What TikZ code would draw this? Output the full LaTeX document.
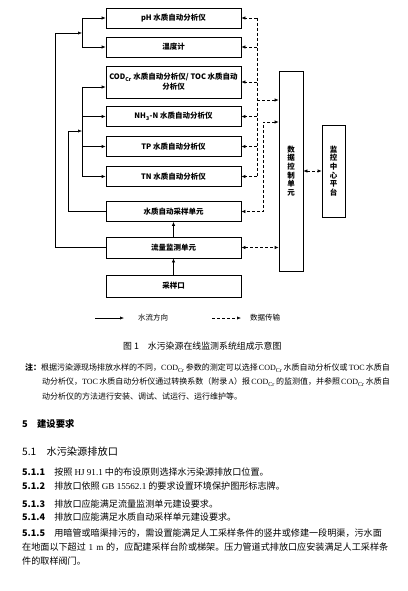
\documentclass[tikz,border=0pt]{standalone}
\usepackage{fontspec}
\setmainfont{Liberation Serif}
\newfontfamily\cjk{Noto Sans CJK SC}
\usetikzlibrary{arrows.meta}
\XeTeXlinebreaklocale "zh"
\XeTeXlinebreakskip=0pt plus 3pt minus 0.6pt
\newcommand\jline[2]{\hbox to #1{#2}}
\tikzset{
  box/.style={draw, line width=0.6pt, minimum width=135pt, inner sep=0pt, align=center,
    font=\cjk\bfseries\fontsize{7.5}{10}\selectfont},
  vbox/.style={draw, line width=0.6pt, inner sep=0pt, align=center,
    font=\cjk\bfseries\fontsize{7.5}{8.6}\selectfont},
  arr/.style={-{Latex[length=4pt,width=3.2pt]}},
  arrb/.style={{Latex[length=4pt,width=3.2pt]}-{Latex[length=4pt,width=3.2pt]}},
  ln/.style={line width=0.6pt},
  dsh/.style={line width=0.6pt, dash pattern=on 3pt off 2pt},
  legend/.style={inner sep=0pt, font=\cjk\fontsize{7.5}{9}\selectfont},
  txt/.style={inner sep=0pt, anchor=west, font=\cjk\fontsize{9.1}{11}\selectfont},
  note/.style={inner sep=0pt, anchor=west, font=\cjk\fontsize{8}{10}\selectfont},
  head/.style={inner sep=0pt, anchor=west, font=\cjk\bfseries\fontsize{9.3}{11}\selectfont}
}
\begin{document}
\begin{tikzpicture}[x=1pt,y=-1pt]
\useasboundingbox (0,0) rectangle (407,591);
% boxes
\node[box, minimum height=20pt] (ph) at (173.5,18) {pH 水质自动分析仪};
\node[box, minimum height=20pt] (temp) at (173.5,47) {温度计};
\node[box, minimum height=32pt] (cod) at (173.5,82) {COD\textsubscript{Cr} 水质自动分析仪/ TOC 水质自动\\分析仪};
\node[box, minimum height=20pt] (nh) at (173.5,116.5) {NH\textsubscript{3}-N 水质自动分析仪};
\node[box, minimum height=20pt] (tp) at (173.5,146.5) {TP 水质自动分析仪};
\node[box, minimum height=20pt] (tn) at (173.5,176.5) {TN 水质自动分析仪};
\node[box, minimum height=20pt] (samp) at (173.5,211.5) {水质自动采样单元};
\node[box, minimum height=21pt] (flow) at (173.5,247.5) {流量监测单元};
\node[box, minimum height=22pt] (port) at (173.5,286) {采样口};
\node[vbox, minimum width=24pt, minimum height=200pt] (data) at (291,171) {数\\据\\控\\制\\单\\元};
\node[vbox, minimum width=23pt, minimum height=92pt] (mon) at (333.5,171) {监\\控\\中\\心\\平\\台};
% vertical flow arrows
\draw[ln,arr] (port.north) -- (flow.south);
\draw[ln,arr] (flow.north) -- (samp.south);
% outer solid flow line
\coordinate (o1) at (55,33);
\coordinate (j1) at (82,33);
\coordinate (j1t) at (82,18);
\coordinate (j1b) at (82,47);
\draw[ln,arr] (flow.west) -| (o1) -- (j1);
\draw[ln] (j1t) -- (j1b);
\draw[ln,arr] (j1t) -- (ph.west);
\draw[ln,arr] (j1b) -- (temp.west);
% inner solid flow line
\coordinate (o2) at (68,131);
\coordinate (j2) at (82,131);
\coordinate (j2t) at (82,87);
\coordinate (j2b) at (82,176.5);
\coordinate (j2n) at (82,116.5);
\coordinate (j2p) at (82,146.5);
\draw[ln,arr] (samp.west) -| (o2) -- (j2);
\draw[ln] (j2t) -- (j2b);
\draw[ln,arr] (j2t) -- (j2t -| cod.west);
\draw[ln,arr] (j2n) -- (nh.west);
\draw[ln,arr] (j2p) -- (tp.west);
\draw[ln,arr] (j2b) -- (tn.west);
% dashed data bus
\coordinate (b1) at (257,18);
\coordinate (b2) at (257,47);
\coordinate (b3) at (257,82);
\coordinate (b4) at (257,116.5);
\coordinate (b5) at (257,146.5);
\coordinate (b6) at (257,176.5);
\coordinate (bj) at (257,100);
\draw[dsh] (b1) -- (b6);
\draw[dsh,arr] (b1) -- (ph.east);
\draw[dsh,arr] (b2) -- (temp.east);
\draw[dsh,arr] (b3) -- (cod.east);
\draw[dsh,arr] (b4) -- (nh.east);
\draw[dsh,arr] (b5) -- (tp.east);
\draw[dsh,arr] (b6) -- (tn.east);
\draw[dsh,arr] (bj) -- (bj -| data.west);
\coordinate (c2) at (263,122);
\draw[dsh,arrb] (c2 -| data.west) -- (c2) |- (samp.east);
\draw[dsh,arrb] (flow.east) -- (flow.east -| data.west);
\draw[dsh,arrb] (data.east) -- (mon.west);
% legend
\coordinate (l1a) at (95,318);
\coordinate (l1b) at (124,318);
\draw[ln,arr] (l1a) -- (l1b);
\node[legend] (lt1) at (153,318) {水流方向};
\coordinate (l2a) at (212,318);
\coordinate (l2b) at (241,318);
\draw[dsh,arr] (l2a) -- (l2b);
\node[legend] (lt2) at (265,318) {数据传输};
% caption
\node[inner sep=0pt, anchor=west, font=\cjk\fontsize{8.9}{11}\selectfont] (cap) at (123,346) {图 1　水污染源在线监测系统组成示意图};
% note
\node[note] (n1) at (25,368) {\jline{363pt}{{\bfseries 注：}根据污染源现场排放水样的不同，{\rmfamily COD\textsubscript{Cr}} 参数的测定可以选择 {\rmfamily COD\textsubscript{Cr}} 水质自动分析仪或 {\rmfamily TOC} 水质自}};
\node[note] (n2) at (42,382) {\jline{346pt}{动分析仪，{\rmfamily TOC} 水质自动分析仪通过转换系数（附录 {\rmfamily A}）报 {\rmfamily COD\textsubscript{Cr}} 的监测值，并参照 {\rmfamily COD\textsubscript{Cr}} 水质自}};
\node[note] (n3) at (42,396) {动分析仪的方法进行安装、调试、试运行、运行维护等。};
% sections
\node[head] (h5) at (22,424) {5　建设要求};
\node[head, font=\cjk\fontsize{10.2}{12}\selectfont] (h51) at (22,452) {5.1　水污染源排放口};
\node[txt] (s1) at (22,472) {{\bfseries 5.1.1}　按照 {\rmfamily HJ 91.1} 中的布设原则选择水污染源排放口位置。};
\node[txt] (s2) at (22,486) {{\bfseries 5.1.2}　排放口依照 {\rmfamily GB 15562.1} 的要求设置环境保护图形标志牌。};
\node[txt] (s3) at (22,504) {{\bfseries 5.1.3}　排放口应能满足流量监测单元建设要求。};
\node[txt] (s4) at (22,517) {{\bfseries 5.1.4}　排放口应能满足水质自动采样单元建设要求。};
\node[txt] (s5a) at (22,533) {\jline{366pt}{{\bfseries 5.1.5}　用暗管或暗渠排污的，需设置能满足人工采样条件的竖井或修建一段明渠，污水面}};
\node[txt] (s5b) at (22,547) {\jline{366pt}{在地面以下超过 {\rmfamily 1 m} 的，应配建采样台阶或梯架。压力管道式排放口应安装满足人工采样条}};
\node[txt] (s5c) at (22,561) {件的取样阀门。};
\end{tikzpicture}
\end{document}
